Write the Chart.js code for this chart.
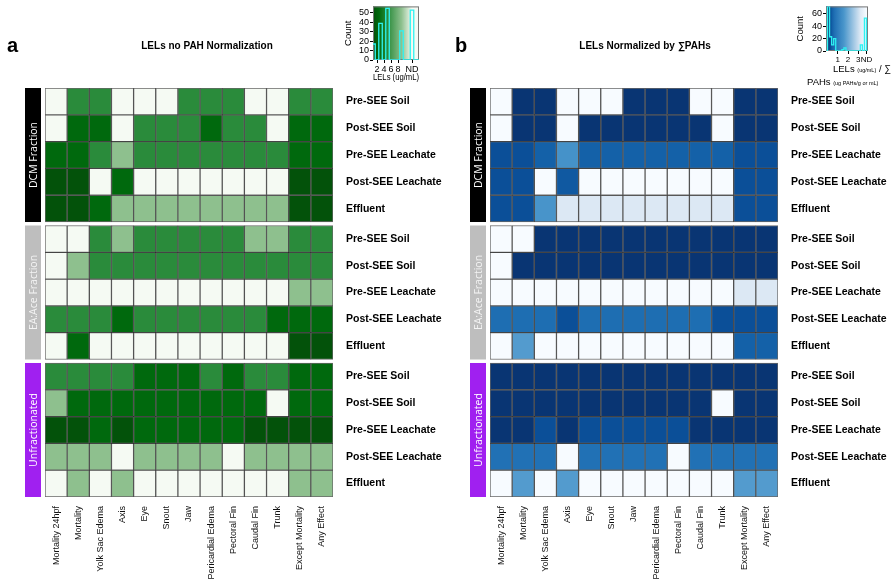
<!DOCTYPE html>
<html>
<head>
<meta charset="utf-8">
<script src="https://cdn.jsdelivr.net/npm/chart.js@4.4.1/dist/chart.umd.min.js"></script>
<style>
  body { margin: 0; background: #fff; width: 891px; height: 581px; position: relative; overflow: hidden;
         font-family: "Liberation Sans", Arial, sans-serif; }
  canvas { position: absolute; }
  .t { position: absolute; white-space: nowrap; color: #000; line-height: 1; }
</style>
</head>
<body>
<canvas id="heatA" style="left:0;top:0" width="445" height="581"></canvas>
<canvas id="heatB" style="left:445px;top:0" width="446" height="581"></canvas>
<canvas id="keyA" style="left:335px;top:0" width="95" height="88"></canvas>
<canvas id="keyB" style="left:790px;top:0" width="95" height="66"></canvas>

<div class="t" style="left:7px;top:35px;font-size:20px;font-weight:bold">a</div>
<div class="t" style="left:207px;top:41px;font-size:10px;font-weight:bold;transform:translateX(-50%)">LELs no PAH Normalization</div>
<div class="t" style="left:455px;top:35px;font-size:20px;font-weight:bold">b</div>
<div class="t" style="left:645px;top:41px;font-size:10px;font-weight:bold;transform:translateX(-50%)">LELs Normalized by ∑PAHs</div>
<div class="t" style="left:833px;top:64px;font-size:9.5px">LELs <span style="font-size:5.5px">(ug/mL)</span> / ∑</div>
<div class="t" style="left:807px;top:77px;font-size:9.5px">PAHs <span style="font-size:5.5px">(ug PAHs/g or mL)</span></div>

<script>
// heatmap axes
const columns = ['Mortality 24hpf', 'Mortality', 'Yolk Sac Edema', 'Axis', 'Eye', 'Snout', 'Jaw',
                 'Pericardial Edema', 'Pectoral Fin', 'Caudal Fin', 'Trunk', 'Except Mortality', 'Any Effect'];
const samples = ['Pre-SEE Soil', 'Post-SEE Soil', 'Pre-SEE Leachate', 'Post-SEE Leachate', 'Effluent'];
const fractions = ['DCM Fraction', 'EA:Ace Fraction', 'Unfractionated'];

// panel a: LELs (ug/mL), null = ND
const lelDCM = [
  [null, 5, 5, null, null, null, 5, 5, 5, null, null, 5, 5],
  [null, 2.5, 2.5, null, 5, 5, 5, 2.5, 5, 5, null, 2.5, 2.5],
  [2.5, 2.5, 5, 9, 5, 5, 5, 5, 5, 5, 5, 2.5, 2.5],
  [1, 1, null, 2.5, null, null, null, null, null, null, null, 1, 1],
  [1, 1, 2.5, 9, 9, 9, 9, 9, 9, 9, 9, 1, 1]
];
const lelEAAce = [
  [null, null, 5, 9, 5, 5, 5, 5, 5, 9, 9, 5, 5],
  [null, 9, 5, 5, 5, 5, 5, 5, 5, 5, 5, 5, 5],
  [null, null, null, null, null, null, null, null, null, null, null, 9, 9],
  [5, 5, 5, 2.5, 5, 5, 5, 5, 5, 5, 2.5, 2.5, 2.5],
  [null, 2.5, null, null, null, null, null, null, null, null, null, 1, 1]
];
const lelUnfrac = [
  [5, 5, 5, 5, 2.5, 2.5, 2.5, 5, 2.5, 5, 5, 2.5, 2.5],
  [9, 2.5, 2.5, 2.5, 2.5, 2.5, 2.5, 2.5, 2.5, 2.5, null, 2.5, 2.5],
  [1, 1, 2.5, 1, 2.5, 2.5, 2.5, 2.5, 2.5, 1, 1, 1, 1],
  [9, 9, 9, null, 9, 9, 9, 9, null, 9, 9, 9, 9],
  [null, 9, null, 9, null, null, null, null, null, null, null, 9, 9]
];

// panel b: LELs / sum PAHs, null = ND
const normDCM = [
  [null, .05, .05, null, null, null, .05, .05, .05, null, null, .05, .05],
  [null, .05, .05, null, .05, .05, .05, .05, .05, .05, null, .05, .05],
  [.3, .3, .45, 1.5, .45, .45, .45, .45, .45, .45, .45, .3, .3],
  [.3, .3, null, .38, null, null, null, null, null, null, null, .3, .3],
  [.3, .3, 1.55, 3.2, 3.2, 3.2, 3.2, 3.2, 3.2, 3.2, 3.2, .3, .3]
];
const normEAAce = [
  [null, null, .05, .05, .05, .05, .05, .05, .05, .05, .05, .05, .05],
  [null, .05, .05, .05, .05, .05, .05, .05, .05, .05, .05, .05, .05],
  [null, null, null, null, null, null, null, null, null, null, null, 3.2, 3.2],
  [.65, .65, .65, .3, .65, .65, .65, .65, .65, .65, .3, .3, .3],
  [null, 1.7, null, null, null, null, null, null, null, null, null, .45, .45]
];
const normUnfrac = [
  [.05, .05, .05, .05, .05, .05, .05, .05, .05, .05, .05, .05, .05],
  [.05, .05, .05, .05, .05, .05, .05, .05, .05, .05, null, .05, .05],
  [.05, .05, .3, .05, .3, .3, .3, .3, .3, .05, .05, .05, .05],
  [.7, .7, .7, null, .7, .7, .7, .7, null, .7, .7, .7, .7],
  [null, 1.7, null, 1.7, null, null, null, null, null, null, null, 1.7, 1.7]
];

// colour keys
const greenStops = [1, 2.5, 5, 9, 12];
const blueStops = [0, 0.3, 0.45, 0.7, 1.6, 3.2, 3.8];
const greenTicks = [2, 4, 6, 8, 12];   // 12 = ND
const blueTicks = [1, 2, 3, 3.8];      // 3.8 = ND
const greenCountTicks = [0, 10, 20, 30, 40, 50];
const blueCountTicks = [0, 20, 40, 60];

const greenColors = ['#03520a', '#00690d', '#2a8b3b', '#8ec08e', '#f5faf3'];
const blueColors = ['#08306b', '#0b4f98', '#1461a8', '#2171b5', '#4a96cb', '#dce8f4', '#f7fbff'];
const fractionColors = ['#000000', '#bebebe', '#a020f0'];
const fractionText = ['#ffffff', '#f4f4f4', '#ffffff'];
const FONT = '"Liberation Sans", Arial, sans-serif';
const gap = 0.13;

Chart.defaults.font.family = FONT;

function hex(c) { return [1, 3, 5].map(k => parseInt(c.slice(k, k + 2), 16)); }

function colorScale(stops, colors) {
  return v => {
    if (v === null) return colors[colors.length - 1];
    if (v <= stops[0]) return colors[0];
    for (let k = 1; k < stops.length; k++) {
      if (v <= stops[k]) {
        const t = (v - stops[k - 1]) / (stops[k] - stops[k - 1]);
        const a = hex(colors[k - 1]), b = hex(colors[k]);
        return 'rgb(' + a.map((x, j) => Math.round(x + (b[j] - x) * t)).join(',') + ')';
      }
    }
    return colors[colors.length - 1];
  };
}

// row positions on the y scale, with a small gap between fractions
const rowCenters = [];
fractions.forEach((f, g) => samples.forEach((s, i) => rowCenters.push(g * (samples.length + gap) + i + 0.5)));
const yMax = fractions.length * samples.length + (fractions.length - 1) * gap;

const fractionBars = {
  id: 'fractionBars',
  afterDraw(chart) {
    const ctx = chart.ctx, y = chart.scales.y, left = chart.chartArea.left;
    fractions.forEach((name, g) => {
      const y0 = y.getPixelForValue(g * (samples.length + gap));
      const y1 = y.getPixelForValue(g * (samples.length + gap) + samples.length);
      ctx.save();
      ctx.fillStyle = fractionColors[g];
      ctx.fillRect(left - 20, y0, 16, y1 - y0);
      ctx.translate(left - 12, (y0 + y1) / 2);
      ctx.rotate(-Math.PI / 2);
      ctx.fillStyle = fractionText[g];
      ctx.font = '10.5px "Open Sans", sans-serif';
      ctx.textAlign = 'center';
      ctx.textBaseline = 'middle';
      ctx.fillText(name, 0, 1);
      ctx.restore();
    });
  }
};

function heatmap(id, blocks, colorOf, width) {
  const rows = [].concat(...blocks);
  const datasets = rows.map((vals, r) => {
    const top = Math.floor(r / samples.length) * (samples.length + gap) + (r % samples.length);
    return {
      data: vals.map(() => [top, top + 1]),
      backgroundColor: vals.map(colorOf),
      borderColor: 'rgba(0,0,0,0.6)',
      borderWidth: 1,
      borderSkipped: false,
      grouped: false,
      barPercentage: 1,
      categoryPercentage: 1
    };
  });
  new Chart(document.getElementById(id), {
    type: 'bar',
    data: { labels: columns, datasets: datasets },
    options: {
      responsive: false,
      animation: false,
      devicePixelRatio: 1,
      layout: { padding: { left: 45, top: 88, right: 0, bottom: 0 } },
      plugins: { legend: { display: false }, tooltip: { enabled: false } },
      scales: {
        x: {
          grid: { display: false },
          border: { display: false },
          ticks: { autoSkip: false, minRotation: 90, maxRotation: 90, padding: 1, color: '#111', font: { size: 9 } },
          afterFit: s => { s.height = 84; }
        },
        y: {
          type: 'linear',
          position: 'right',
          reverse: true,
          min: 0,
          max: yMax,
          grid: { display: false },
          border: { display: false },
          afterBuildTicks: s => { s.ticks = rowCenters.map(v => ({ value: v })); },
          ticks: {
            padding: 5, color: '#000', font: { size: 10.5, weight: 'bold' },
            callback: (v, i) => samples[i % samples.length]
          },
          afterFit: s => { s.width = width - 333; }
        }
      }
    },
    plugins: [fractionBars]
  });
}

const greenOf = colorScale(greenStops, greenColors);
const blueOf = colorScale(blueStops, blueColors);
heatmap('heatA', [lelDCM, lelEAAce, lelUnfrac], greenOf, 445);
heatmap('heatB', [normDCM, normEAAce, normUnfrac], blueOf, 446);

// histogram traces of the colour keys, counted from the cell values
function histogram(blocks, binOf, centers) {
  const counts = centers.map(() => 0);
  [].concat(...blocks).forEach(row => row.forEach(v => { counts[binOf(v)]++; }));
  return centers.map((c, k) => ({ x: c, y: counts[k] }));
}
const greenCenters = Array.from({ length: 15 }, (_, k) => k);
const greenHist = histogram([lelDCM, lelEAAce, lelUnfrac], v => v === null ? 12 : Math.round(v), greenCenters);
const blueCenters = Array.from({ length: 21 }, (_, k) => -0.1 + k * 0.2);
const blueHist = histogram([normDCM, normEAAce, normUnfrac], v => v === null ? 19 : Math.floor(v / 0.2) + 1, blueCenters);

function gradientPlugin(stops, colors) {
  return {
    id: 'keyGradient',
    beforeDatasetsDraw(chart) {
      const { ctx, chartArea: a, scales: { x } } = chart;
      const grad = ctx.createLinearGradient(a.left, 0, a.right, 0);
      stops.forEach((v, k) => {
        const p = (x.getPixelForValue(v) - a.left) / (a.right - a.left);
        grad.addColorStop(Math.min(1, Math.max(0, p)), colors[k]);
      });
      ctx.save();
      ctx.fillStyle = grad;
      ctx.fillRect(a.left, a.top, a.right - a.left, a.bottom - a.top);
      ctx.strokeStyle = '#777';
      ctx.lineWidth = 1;
      ctx.strokeRect(a.left + 0.5, a.top + 0.5, a.right - a.left - 1, a.bottom - a.top - 1);
      ctx.restore();
    }
  };
}

function colorKey(id, hist, o) {
  new Chart(document.getElementById(id), {
    type: 'line',
    data: {
      datasets: [{
        data: hist, stepped: 'middle', borderColor: '#2ef2f2', borderWidth: 1.3,
        pointRadius: 0, fill: false
      }]
    },
    options: {
      responsive: false,
      animation: false,
      devicePixelRatio: 1,
      layout: { padding: o.padding },
      plugins: { legend: { display: false }, tooltip: { enabled: false } },
      scales: {
        x: {
          type: 'linear', min: o.xMin, max: o.xMax,
          grid: { drawOnChartArea: false, tickLength: 3, color: '#000' },
          border: { display: false },
          afterBuildTicks: s => { s.ticks = o.ticks.map(v => ({ value: v })); },
          ticks: {
            autoSkip: false, minRotation: 0, maxRotation: 0, padding: 1, color: '#000', font: { size: o.tickSize },
            callback: v => v === o.nd ? 'ND' : v
          },
          title: o.xTitle ? { display: true, text: o.xTitle, color: '#000', font: { size: 9.5 }, padding: 0 } : { display: false },
          afterFit: s => { s.height = o.xHeight; }
        },
        y: {
          min: 0, max: o.yMax,
          grid: { drawOnChartArea: false, tickLength: 3, color: '#000' },
          border: { display: false },
          afterBuildTicks: s => { s.ticks = o.yTicks.map(v => ({ value: v })); },
          ticks: { autoSkip: false, padding: 1, color: '#000', font: { size: 9 } },
          title: { display: true, text: 'Count', color: '#000', font: { size: 9.5 }, padding: 0 },
          afterFit: s => { s.width = o.yWidth; }
        }
      }
    },
    plugins: [gradientPlugin(o.stops, o.colors)]
  });
}

colorKey('keyA', greenHist, {
  padding: { top: 5, left: 8, right: 11, bottom: 5 },
  xMin: 0.85, xMax: 14, ticks: greenTicks, nd: 12, xTitle: 'LELs (ug/mL)', xHeight: 23, tickSize: 9,
  yMax: 57, yTicks: greenCountTicks, yWidth: 30, stops: greenStops, colors: greenColors
});
colorKey('keyB', blueHist, {
  padding: { top: 6, left: 5, right: 17, bottom: 2 },
  xMin: -0.15, xMax: 3.95, ticks: blueTicks, nd: 3.8, xTitle: null, xHeight: 13, tickSize: 8,
  yMax: 72, yTicks: blueCountTicks, yWidth: 31, stops: blueStops, colors: blueColors
});
</script>
</body>
</html>
